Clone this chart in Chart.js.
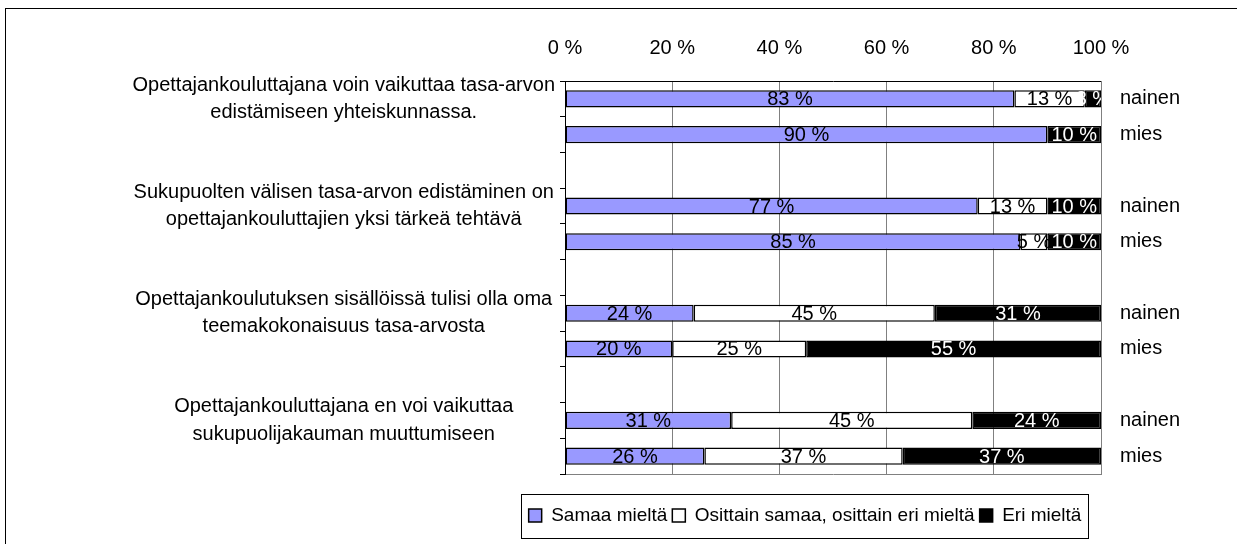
<!DOCTYPE html>
<html>
<head>
<meta charset="utf-8">
<script src="https://cdn.jsdelivr.net/npm/chart.js@4/dist/chart.umd.min.js"></script>
<style>
  html, body { margin: 0; padding: 0; background: #fff; overflow: hidden; }
  #frame {
    position: absolute; left: 5px; top: 8px;
    width: 1600px; height: 562px;
    border: 1px solid #000; box-sizing: border-box;
  }
  #chart { display: block; }
</style>
</head>
<body>
<div id="frame"><canvas id="chart" width="1598" height="560"></canvas></div>
<script>
// DATA (gap rows between the questions are null)
const questions = [
  ["Opettajankouluttajana voin vaikuttaa tasa-arvon", "edistämiseen yhteiskunnassa."], "", "",
  ["Sukupuolten välisen tasa-arvon edistäminen on", "opettajankouluttajien yksi tärkeä tehtävä"], "", "",
  ["Opettajankoulutuksen sisällöissä tulisi olla oma", "teemakokonaisuus tasa-arvosta"], "", "",
  ["Opettajankouluttajana en voi vaikuttaa", "sukupuolijakauman muuttumiseen"], ""
];
const groups = ["nainen", "mies", "", "nainen", "mies", "", "nainen", "mies", "", "nainen", "mies"];

const samaa    = [83, 90, null, 77, 85, null, 24, 20, null, 31, 26];
const osittain = [13, 0,  null, 13, 5,  null, 45, 25, null, 45, 37];
const eri      = [3,  10, null, 10, 10, null, 31, 55, null, 24, 37];

const seriesNames = ["Samaa mieltä", "Osittain samaa, osittain eri mieltä", "Eri mieltä"];
const xTicks = [0, 20, 40, 60, 80, 100];

// 100 % stacked, like the original: each row scaled to its own total
const rows = [samaa, osittain, eri];
const totals = samaa.map((v, i) => v == null ? null : v + osittain[i] + eri[i]);
const share = arr => arr.map((v, i) => v == null ? null : v / totals[i] * 100);

const FONT = { family: "'Liberation Sans', Arial, sans-serif", size: 20 };
const LEGEND_FONT = { family: FONT.family, size: 19 };
Chart.defaults.font.family = FONT.family;
Chart.defaults.font.size = FONT.size;
Chart.defaults.color = "#000";

// value labels inside the bar segments
const barLabels = {
  id: "barLabels",
  afterDatasetsDraw(chart) {
    const { ctx, chartArea } = chart;
    ctx.save();
    ctx.beginPath();
    ctx.rect(chartArea.left, chartArea.top, chartArea.width, chartArea.height);
    ctx.clip();
    ctx.font = FONT.size + "px " + FONT.family;
    ctx.textAlign = "center";
    ctx.textBaseline = "middle";
    rows.forEach((raw, di) => {
      chart.getDatasetMeta(di).data.forEach((bar, i) => {
        const v = raw[i];
        if (!v) return;
        ctx.fillStyle = di === 2 ? "#fff" : "#000";
        ctx.fillText(v + " %", (bar.x + bar.base) / 2, bar.y + 1);
      });
    });
    ctx.restore();
  }
};

// frame round the legend
const legendFrame = {
  id: "legendFrame",
  afterDraw(chart) {
    const lg = chart.legend;
    if (!lg || !lg.legendHitBoxes.length) return;
    const boxes = lg.legendHitBoxes;
    const left = Math.min(...boxes.map(b => b.left)) - 8;
    const right = Math.max(...boxes.map(b => b.left + b.width)) + 6;
    const mid = lg.top + lg.options.labels.padding + LEGEND_FONT.size / 2;
    const ctx = chart.ctx;
    ctx.save();
    ctx.strokeStyle = "#000";
    ctx.lineWidth = 1;
    ctx.strokeRect(Math.round(left) + 0.5, Math.round(mid - 22) + 0.5, Math.round(right - left), 44);
    ctx.restore();
  }
};

new Chart(document.getElementById("chart"), {
  type: "bar",
  data: {
    labels: questions,
    datasets: [
      { label: seriesNames[0], data: share(samaa), backgroundColor: "#9999ff" },
      { label: seriesNames[1], data: share(osittain), backgroundColor: "#ffffff" },
      { label: seriesNames[2], data: share(eri), backgroundColor: "#000000" }
    ]
  },
  options: {
    indexAxis: "y",
    responsive: false,
    animation: false,
    layout: { padding: { left: 0, right: 0, top: 0, bottom: 34 } },
    datasets: {
      bar: {
        borderColor: "#000",
        borderWidth: 1.5,
        borderSkipped: false,
        categoryPercentage: 1,
        barPercentage: 0.48
      }
    },
    plugins: {
      legend: {
        position: "bottom",
        labels: {
          boxWidth: 13,
          boxHeight: 13,
          padding: 5,
          color: "#000",
          font: LEGEND_FONT
        }
      },
      tooltip: { enabled: false }
    },
    scales: {
      x: {
        type: "linear",
        position: "top",
        stacked: true,
        min: 0,
        max: 100,
        afterBuildTicks: s => { s.ticks = xTicks.map(v => ({ value: v })); },
        afterFit: s => { s.height = 72; },
        ticks: { padding: 21, callback: v => v + " %", font: FONT },
        grid: { color: "#808080", drawTicks: false },
        border: { color: "#000", width: 1 }
      },
      x2: {
        type: "linear",
        position: "bottom",
        afterFit: s => { s.height = 27; },
        ticks: { display: false },
        grid: { display: false, drawTicks: false },
        border: { color: "#808080", width: 1 }
      },
      y: {
        type: "category",
        position: "left",
        stacked: true,
        offset: true,
        afterFit: s => { s.width = 559; },
        ticks: {
          autoSkip: false,
          crossAlign: "center",
          padding: 5,
          font: { family: FONT.family, size: FONT.size, lineHeight: 1.36 }
        },
        grid: { offset: true, drawOnChartArea: false, drawTicks: true, tickLength: 5, color: "#000" },
        border: { color: "#000", width: 1 }
      },
      y2: {
        type: "category",
        position: "right",
        labels: groups,
        offset: true,
        afterFit: s => { s.width = 503; },
        ticks: { autoSkip: false, padding: 19, font: FONT },
        grid: { display: false, drawTicks: false },
        border: { color: "#808080", width: 1 }
      }
    }
  },
  plugins: [barLabels, legendFrame]
});
</script>
</body>
</html>
